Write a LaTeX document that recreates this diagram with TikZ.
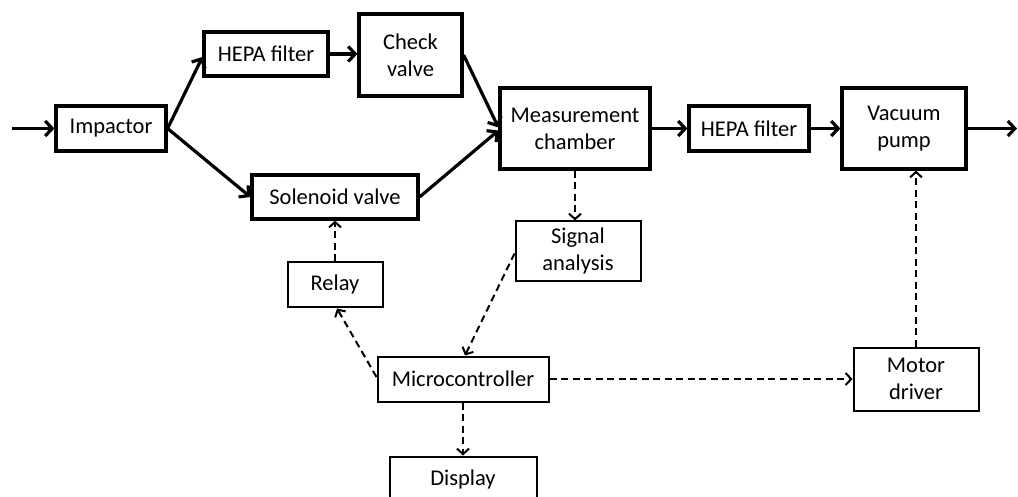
\documentclass[tikz,border=0pt]{standalone}
\usepackage{fontspec}
\setmainfont{Carlito}
\usetikzlibrary{arrows.meta}
\begin{document}
\begin{tikzpicture}[x=1pt,y=-1pt,
  txt/.style={font=\fontsize{22.5}{27}\selectfont, align=center, inner sep=0pt},
  blk/.style={txt, draw, line width=3.2pt},
  tbl/.style={txt, draw, line width=2pt},
  flow/.style={line width=3.2pt, -{Straight Barb[length=7pt,width=15pt]}},
  ctrl/.style={line width=2pt, dash pattern=on 7pt off 4.5pt, -{Straight Barb[length=5.5pt,width=12pt]}}]
\useasboundingbox (0,0) rectangle (1018,497);
\fill[white] (0,0) rectangle (1018,497);
% main flow blocks
\node[blk, minimum width=110pt, minimum height=45pt] (imp) at (111,128.5) {Impactor};
\node[blk, minimum width=124pt, minimum height=44pt] (hepa1) at (266,54) {HEPA filter};
\node[blk, minimum width=103pt, minimum height=82pt] (check) at (410.5,55) {Check\\valve};
\node[blk, minimum width=166pt, minimum height=44pt] (sol) at (335,197) {Solenoid valve};
\node[blk, minimum width=150pt, minimum height=81pt] (meas) at (575,128.5) {Measurement\\chamber};
\node[blk, minimum width=120pt, minimum height=45pt] (hepa2) at (749,128.5) {HEPA filter};
\node[blk, minimum width=124pt, minimum height=81pt] (vac) at (904,128.5) {Vacuum\\pump};
% control blocks
\node[tbl, minimum width=125pt, minimum height=60pt] (sig) at (578,251.5) {Signal\\analysis};
\node[tbl, minimum width=95pt, minimum height=45pt] (relay) at (335,285) {Relay};
\node[tbl, minimum width=171pt, minimum height=45pt] (mc) at (463,379) {Microcontroller};
\node[tbl, minimum width=147pt, minimum height=45pt] (disp) at (463,479) {Display};
\node[tbl, minimum width=125pt, minimum height=63pt] (motor) at (916,379) {Motor\\driver};
% free ends
\coordinate (in) at (12,128.5);
\coordinate (out) at (1017,128.5);
% flow connectors
\draw[flow] (in) -- (imp.west);
\draw[flow] (imp.east) -- ([yshift=-3pt]hepa1.west);
\draw[flow] (imp.east) -- (sol.west);
\draw[flow] (hepa1.east) -- (hepa1.east -| check.west);
\draw[flow] (check.east) -- ([yshift=1pt]meas.west);
\draw[flow] (sol.east) -- ([yshift=-2pt]meas.west);
\draw[flow] (meas.east) -- (hepa2.west);
\draw[flow] (hepa2.east) -- (vac.west);
\draw[flow] (vac.east) -- (out);
% control connectors
\draw[ctrl] (meas.south) -- (meas.south |- sig.north);
\draw[ctrl] ([yshift=-2pt]sig.west) -- ([xshift=2pt]mc.north);
\draw[ctrl] ([yshift=2pt]mc.west) -- ([xshift=2pt]relay.south);
\draw[ctrl] (relay.north) -- (relay.north |- sol.south);
\draw[ctrl] (mc.south) -- (disp.north);
\draw[ctrl] (mc.east) -- (motor.west);
\draw[ctrl] (motor.north) -- (motor.north |- vac.south);
\end{tikzpicture}
\end{document}
